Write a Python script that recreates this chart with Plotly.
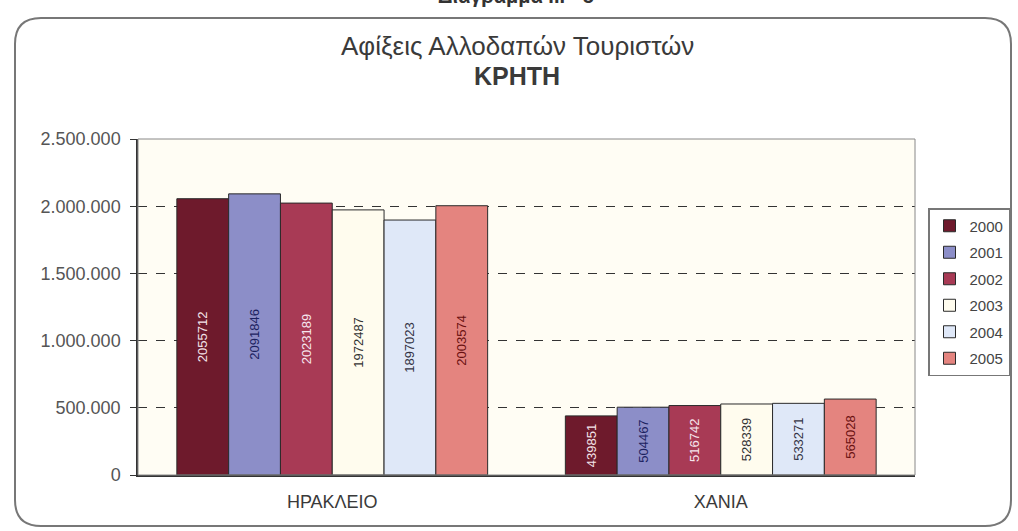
import plotly.graph_objects as go

# Foreign tourist arrivals, Crete, by prefecture and year
regions = ["ΗΡΑΚΛΕΙΟ", "ΧΑΝΙΑ"]
years = ["2000", "2001", "2002", "2003", "2004", "2005"]
arrivals_2000 = [2055712, 439851]
arrivals_2001 = [2091846, 504467]
arrivals_2002 = [2023189, 516742]
arrivals_2003 = [1972487, 528339]
arrivals_2004 = [1897023, 533271]
arrivals_2005 = [2003574, 565028]
series = [arrivals_2000, arrivals_2001, arrivals_2002,
          arrivals_2003, arrivals_2004, arrivals_2005]

y_ticks = [0, 500000, 1000000, 1500000, 2000000, 2500000]
y_tick_text = ["0", "500.000", "1.000.000", "1.500.000", "2.000.000", "2.500.000"]

fill_colors = ["#6e1a2c", "#8c8ec8", "#a83a55", "#fffcee", "#dfe8f8", "#e4847f"]
label_colors = ["#f4e4ea", "#1c2260", "#f6e6ee", "#333333", "#333344", "#6a1010"]

W, H = 1018, 531
L, R, T, B = 138, 915, 139, 475

fig = go.Figure()
for yr, vals, fc, lc in zip(years, series, fill_colors, label_colors):
    fig.add_trace(go.Bar(
        name=yr, x=regions, y=vals, legendgroup=yr,
        marker=dict(color=fc, line=dict(color="#2a2a2a", width=1)),
        text=[str(v) for v in vals],
        textposition="inside", insidetextanchor="middle", textangle=-90,
        textfont=dict(family="Liberation Sans", size=13, color=lc),
        constraintext="none",
    ))

def px_x(px):
    return (px - L) / (R - L)

def px_y(py):
    return (B - py) / (B - T)

# rounded outer frame
x0, x1 = px_x(15), px_x(1011)
y0, y1 = px_y(526), px_y(18)
rx, ry = 26 / (R - L), 26 / (B - T)
frame = (f"M {x0 + rx},{y1} L {x1 - rx},{y1} Q {x1},{y1} {x1},{y1 - ry} "
         f"L {x1},{y0 + ry} Q {x1},{y0} {x1 - rx},{y0} "
         f"L {x0 + rx},{y0} Q {x0},{y0} {x0},{y0 + ry} "
         f"L {x0},{y1 - ry} Q {x0},{y1} {x0 + rx},{y1} Z")

fig.update_layout(
    width=W, height=H,
    margin=dict(l=L, r=W - R, t=T, b=H - B, pad=0, autoexpand=False),
    paper_bgcolor="white",
    plot_bgcolor="#fffdf4",
    barmode="group", bargap=0.2, bargroupgap=0,
    font=dict(family="Liberation Sans", size=17, color="#333333"),
    showlegend=True,
    legend=dict(
        x=px_x(928), y=px_y(208), xanchor="left", yanchor="top",
        bgcolor="white", bordercolor="#777777", borderwidth=1.5,
        font=dict(size=15, color="#444444"),
        traceorder="grouped", tracegroupgap=4,
    ),
    shapes=[
        dict(type="path", xref="paper", yref="paper", path=frame,
             line=dict(color="#777777", width=2), layer="below"),
        dict(type="rect", xref="paper", yref="paper", x0=0, x1=1, y0=0, y1=1,
             line=dict(color="#888888", width=1)),
    ],
    annotations=[
        dict(text="Αφίξεις Αλλοδαπών Τουριστών", xref="paper", yref="paper",
             x=px_x(517), y=px_y(46), yanchor="middle", showarrow=False,
             font=dict(size=26, color="#3a3a3a")),
        dict(text="<b>ΚΡΗΤΗ</b>", xref="paper", yref="paper",
             x=px_x(517), y=px_y(76), yanchor="middle", showarrow=False,
             font=dict(size=25, color="#3a3a3a")),
        dict(text="<b>Διάγραμμα ΙΙΙ - 5</b>", xref="paper", yref="paper",
             x=px_x(516), y=px_y(9), yanchor="bottom", showarrow=False,
             font=dict(size=20, color="#333333")),
    ],
)

fig.update_xaxes(showline=True, linecolor="#333333", linewidth=1.5,
                 ticks="", ticklabelstandoff=10,
                 tickfont=dict(size=18, color="#3a3a3a"))
fig.update_yaxes(range=[0, 2500000], tickvals=y_ticks, ticktext=y_tick_text,
                 showline=True, linecolor="#333333", linewidth=1.5,
                 ticks="outside", ticklen=6, tickcolor="#333333",
                 ticklabelstandoff=6,
                 showgrid=True, gridcolor="#333333", griddash="dash", gridwidth=1,
                 zeroline=False, tickfont=dict(size=18, color="#555555"))

fig.write_html("out.html")
